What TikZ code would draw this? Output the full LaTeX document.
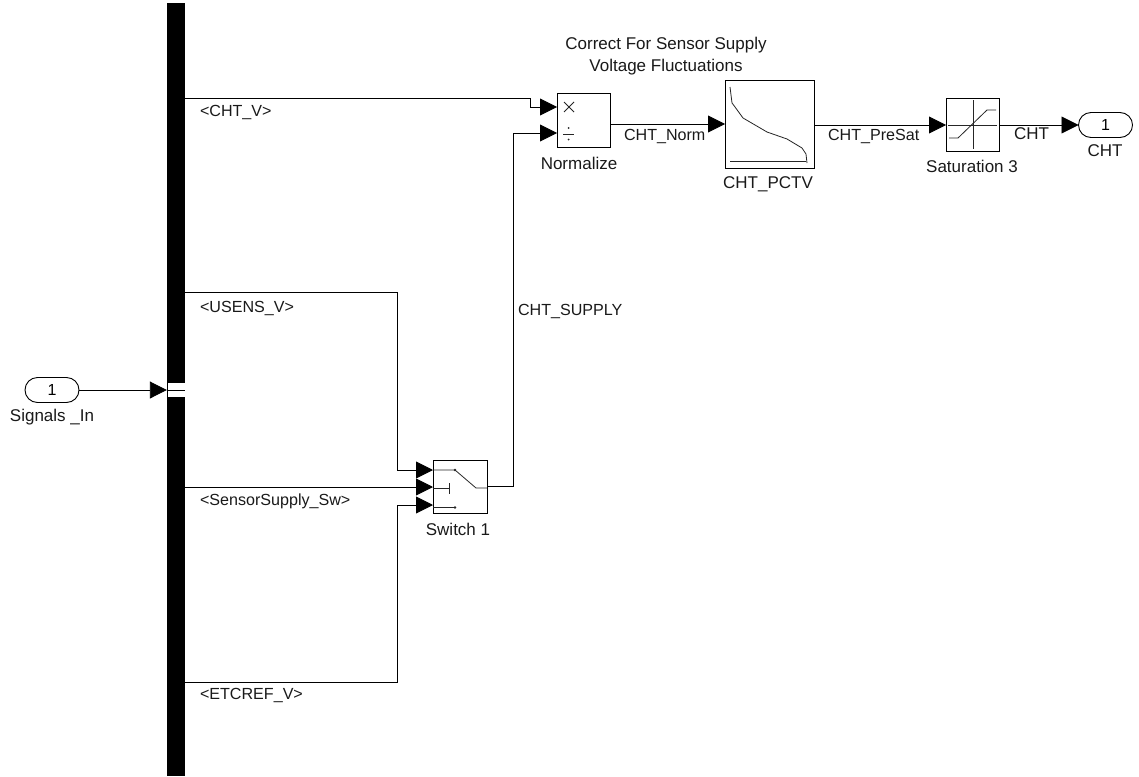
\documentclass[tikz,border=0pt]{standalone}
\usepackage{fontspec}
\setmainfont{Liberation Sans}
\usetikzlibrary{arrows.meta,shapes.misc}
\tikzset{blockbox/.style={draw,line width=0.9pt,fill=white,inner sep=0pt,outer sep=0pt},portbox/.style={draw,line width=0.9pt,rounded rectangle,inner sep=0pt,outer sep=0pt,minimum width=54,minimum height=25,font=\fontsize{16}{18}\selectfont},sigarr/.style={-{Triangle[length=17,width=17]},line width=0.9pt},sigline/.style={line width=0.9pt},iconline/.style={line width=0.8pt,black!85},siglabel/.style={font=\fontsize{17}{22.5}\selectfont,inner sep=0pt,outer sep=0pt,align=center,text=black!90},tightlabel/.style={siglabel,font=\fontsize{16.1}{19}\selectfont}}

\begin{document}
\begin{tikzpicture}[x=1pt,y=-1pt]
\useasboundingbox (0,0) rectangle (1139,776);
\node[fill=black,inner sep=0pt,minimum width=18,minimum height=773] (bus) at (176,389.5) {};
\node[fill=white,inner sep=0pt,minimum width=17,minimum height=14] (busport) at (176,390) {};
\node[portbox] (sigin) at (52,390) {1};
\node[portbox] (chtout) at (1105.5,125) {1};
\node[blockbox,minimum width=53,minimum height=54] (norm) at (583.5,120) {};
\node[blockbox,minimum width=89,minimum height=88] (pctv) at (769.5,124) {};
\node[blockbox,minimum width=53,minimum height=53] (sat) at (972.5,124.5) {};
\node[blockbox,minimum width=54,minimum height=53] (switch) at (460,486.5) {};
% ports
\coordinate (chtvout) at (185,98);
\coordinate (usensout) at (185,292);
\coordinate (sensout) at (185,487);
\coordinate (etcout) at (185,682);
\coordinate (norm1) at (557,107);
\coordinate (norm2) at (557,133);
\coordinate (sw1) at (433,470);
\coordinate (sw2) at (433,487);
\coordinate (sw3) at (433,505);
% signals
\draw[sigarr] (sigin.east) -- (bus.west |- sigin.east);
\draw[sigline] (busport.west) -- (busport.east);
\draw[sigarr] (chtvout) -- ++(345,0) |- (norm1);
\draw[sigarr] (usensout) -- ++(212,0) |- (sw1);
\draw[sigarr] (sensout) -- (sw2);
\draw[sigarr] (etcout) -- ++(212,0) |- (sw3);
\draw[sigarr] (switch.east) -- ++(26,0) |- (norm2);
\draw[sigarr] (norm.east |- 0,124) -- (pctv.west |- 0,124);
\draw[sigarr] (pctv.east |- 0,125) -- (sat.west |- 0,125);
\draw[sigarr] (sat.east |- 0,125) -- (chtout.west);
% icons
\draw[iconline] (564,102) -- (574,112) (574,102) -- (564,112);
\draw[iconline] (563,134) -- (574,134);
\fill[black!85] (568.5,128) circle (1) (568.5,139.5) circle (1);
\draw[iconline] (730,87) -- (732,103) -- (735,107) -- (743,118) -- (767,132) -- (787,139) -- (802,148) -- (806,154) -- (807,163);
\draw[iconline] (730,161) -- (806,161);
\draw[iconline] (973,100) -- (973,149) (948,125) -- (997,125);
\draw[iconline] (949,138) -- (958,138) -- (987,110) -- (996,110);
\draw[iconline] (433,470) -- (455,470) -- (476,488) -- (487,488);
\draw[iconline] (433,488) -- (449,488) (449,483) -- (449,494);
\draw[iconline] (433,507.5) -- (455,507.5);
\fill[black!85] (455,470) circle (1.3) (455,507.5) circle (1.3);
% labels
\node[siglabel] (supplytitle) at (666,56) {Correct For Sensor Supply\\Voltage Fluctuations};
\node[tightlabel,anchor=west] (chtvlabel) at (200,112) {<CHT\_V>};
\node[tightlabel,anchor=west] (usenslabel) at (200,308) {<USENS\_V>};
\node[tightlabel,anchor=west] (senslabel) at (200,501) {<SensorSupply\_Sw>};
\node[tightlabel,anchor=west] (etclabel) at (200,695) {<ETCREF\_V>};
\node[tightlabel,anchor=west] (supplylabel) at (518,311) {CHT\_SUPPLY};
\node[tightlabel,anchor=west] (normlabel) at (624,136) {CHT\_Norm};
\node[tightlabel,anchor=west] (presatlabel) at (828,136) {CHT\_PreSat};
\node[siglabel,anchor=west] (chtlabel) at (1014,134) {CHT};
\node[siglabel] (normname) at (579,163) {Normalize};
\node[siglabel] (pctvname) at (768,184) {CHT\_PCTV};
\node[siglabel] (satname) at (972,166) {Saturation 3};
\node[siglabel] (switchname) at (458,529) {Switch 1};
\node[siglabel] (signame) at (52,417) {Signals \_In};
\node[siglabel] (chtname) at (1105,151) {CHT};
\end{tikzpicture}
\end{document}
